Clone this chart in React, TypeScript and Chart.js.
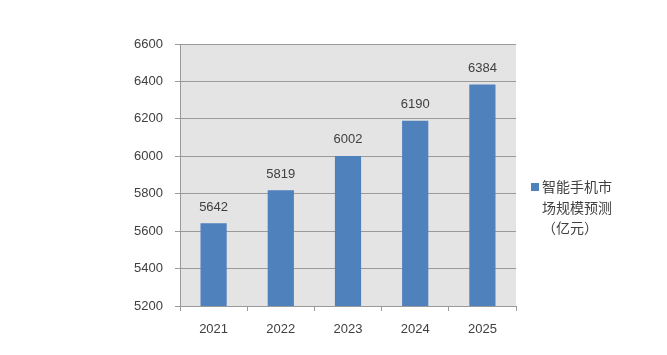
import React, { useEffect, useRef } from "react";
import { Chart, registerables } from "chart.js";

Chart.register(...registerables);

const categories = ["2021", "2022", "2023", "2024", "2025"];
const values = [5642, 5819, 6002, 6190, 6384];
const legendLines = ["智能手机市", "场规模预测", "（亿元）"];
const yMin = 5200;
const yMax = 6600;
const yStep = 200;

const BAR_COLOR = "#4f81bd";
const TEXT_COLOR = "#404040";
const GRID_COLOR = "#9a9a9a";

const plotBg = {
  id: "plotBg",
  beforeDraw(chart: any) {
    const { ctx, chartArea } = chart;
    ctx.save();
    ctx.fillStyle = "#e4e4e4";
    ctx.fillRect(chartArea.left, chartArea.top, chartArea.right - chartArea.left, chartArea.bottom - chartArea.top);
    ctx.restore();
  },
};

const valueLabels = {
  id: "valueLabels",
  afterDatasetsDraw(chart: any) {
    const { ctx } = chart;
    const meta = chart.getDatasetMeta(0);
    ctx.save();
    ctx.fillStyle = TEXT_COLOR;
    ctx.font = '13px "Liberation Sans", Arial, sans-serif';
    ctx.textAlign = "center";
    ctx.textBaseline = "middle";
    meta.data.forEach((el: any, i: number) => {
      ctx.fillText(String(values[i]), el.x, el.y - 16);
    });
    ctx.restore();
  },
};

const sideLegend = {
  id: "sideLegend",
  afterDraw(chart: any) {
    const { ctx } = chart;
    ctx.save();
    ctx.fillStyle = BAR_COLOR;
    ctx.fillRect(531, 183, 8, 8);
    ctx.fillStyle = TEXT_COLOR;
    ctx.font = '14px "Noto Sans CJK SC", sans-serif';
    ctx.textAlign = "left";
    ctx.textBaseline = "middle";
    legendLines.forEach((line, i) => {
      ctx.fillText(line, 542, 187 + i * 20.5);
    });
    ctx.restore();
  },
};

export default function App() {
  const ref = useRef<HTMLCanvasElement>(null);
  useEffect(() => {
    if (!ref.current) return;
    const chart = new Chart(ref.current, {
      type: "bar",
      data: {
        labels: categories,
        datasets: [
          {
            label: legendLines.join(""),
            data: values,
            backgroundColor: BAR_COLOR,
            borderWidth: 0,
            barPercentage: 0.39,
            categoryPercentage: 1,
          },
        ],
      },
      options: {
        animation: false,
        responsive: false,
        devicePixelRatio: 1,
        layout: { padding: { left: 120, right: 151, top: 44, bottom: 0 } },
        plugins: { legend: { display: false }, tooltip: { enabled: false } },
        scales: {
          x: {
            offset: true,
            grid: {
              offset: true,
              drawOnChartArea: false,
              drawTicks: true,
              tickLength: 5,
              color: GRID_COLOR,
            },
            border: { display: true, color: GRID_COLOR },
            ticks: {
              color: TEXT_COLOR,
              font: { family: '"Liberation Sans", Arial, sans-serif', size: 13 },
              padding: 11,
              maxRotation: 0,
            },
            afterFit(scale: any) {
              scale.height = 49;
            },
          },
          y: {
            min: yMin,
            max: yMax,
            ticks: {
              stepSize: yStep,
              color: TEXT_COLOR,
              font: { family: '"Liberation Sans", Arial, sans-serif', size: 13 },
              padding: 12,
              callback: (v: any) => String(v),
            },
            grid: {
              color: GRID_COLOR,
              tickLength: 5,
              drawTicks: true,
            },
            border: { display: true, color: GRID_COLOR },
            afterFit(scale: any) {
              scale.width = 60;
            },
          },
        },
      },
      plugins: [plotBg, valueLabels, sideLegend],
    });
    return () => chart.destroy();
  }, []);
  return (
    <div style={{ position: "absolute", left: 0, top: 0, width: 667, height: 355, background: "#fff" }}>
      <canvas ref={ref} width={667} height={355} style={{ width: 667, height: 355 }} />
    </div>
  );
}
